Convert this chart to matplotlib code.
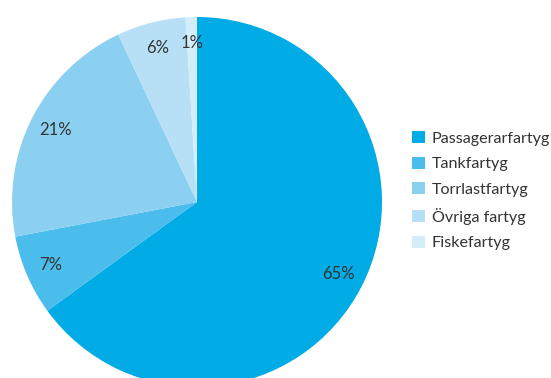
import matplotlib
matplotlib.use("Agg")
import matplotlib.pyplot as plt
from matplotlib.patches import Patch

plt.rcParams['font.family'] = ['Lato', 'DejaVu Sans']

categories = ['Passagerarfartyg', 'Tankfartyg', 'Torrlastfartyg', 'Övriga fartyg', 'Fiskefartyg']
shares = [65, 7, 21, 6, 1]
colors = ['#00abe6', '#4bbdec', '#8bd0f1', '#b7dff5', '#d4edfb']

W, H = 551, 378
cx, cy, R = 197, 202, 185

fig = plt.figure(figsize=(W / 100, H / 100), dpi=100)
ax = fig.add_axes([0, 0, 1, 1])
ax.pie(shares, colors=colors, startangle=90, counterclock=False,
       autopct='%d%%', pctdistance=0.86,
       textprops=dict(fontsize=12, color='#333333'),
       wedgeprops=dict(linewidth=0))
ax.set_xlim(-cx / R, (W - cx) / R)
ax.set_ylim(-(H - cy) / R, cy / R)
ax.set_aspect('equal')
ax.axis('off')

handles = [Patch(facecolor=c, edgecolor='none') for c in colors]
leg = fig.legend(handles, categories, loc='upper left', bbox_to_anchor=(406 / W, 1 - 125 / H),
                 frameon=False, fontsize=11.6, handlelength=0.75, handleheight=0.75,
                 handletextpad=0.45, labelspacing=0.68, borderaxespad=0)
for t in leg.get_texts():
    t.set_color('#333333')

fig.savefig('out.png', dpi=100)
